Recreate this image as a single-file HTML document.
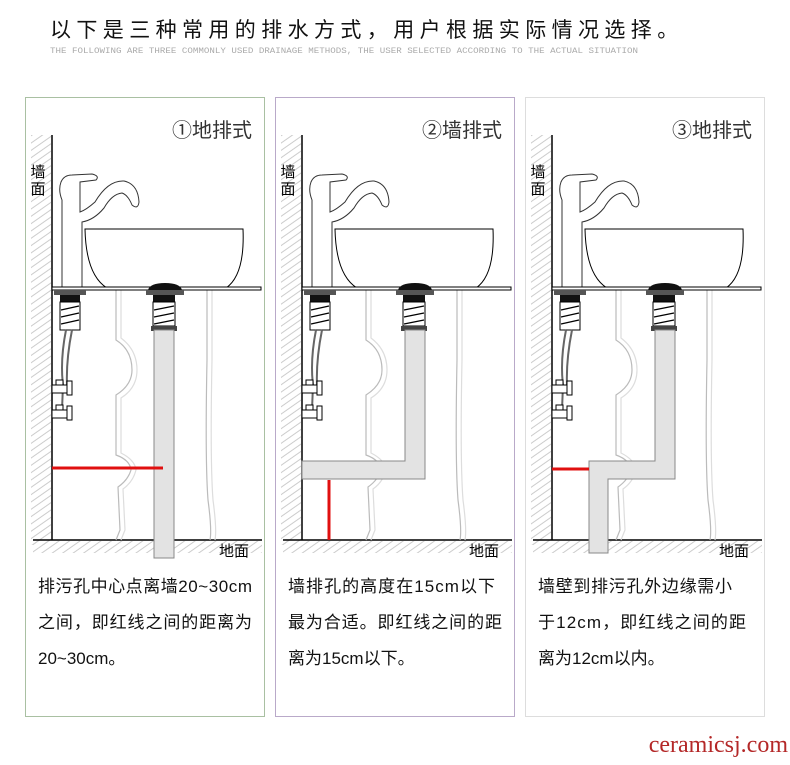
<!DOCTYPE html>
<html><head><meta charset="utf-8"><style>
html,body{margin:0;padding:0;background:#fff;}
body{width:790px;height:760px;overflow:hidden;}
.s{font-family:"Liberation Sans","Noto Sans CJK SC",sans-serif;}
</style></head><body>
<svg width="790" height="760" viewBox="0 0 790 760" xmlns="http://www.w3.org/2000/svg">
<defs>
<pattern id="hatch" width="6" height="6" patternUnits="userSpaceOnUse" patternTransform="rotate(-35)">
<line x1="0" y1="3" x2="6" y2="3" stroke="#ccc" stroke-width="1"/>
</pattern>
<g id="common">
  <rect x="31" y="135" width="20" height="410" fill="url(#hatch)"/>
  <rect x="33" y="541" width="229" height="12" fill="url(#hatch)"/>
  <line x1="52" y1="135" x2="52" y2="540" stroke="#000" stroke-width="1.5"/>
  <line x1="33" y1="540" x2="262" y2="540" stroke="#000" stroke-width="1.5"/>
  <path d="M116 290 L116 340 Q132 350 132 370 Q132 385 116 395 L116 455 Q130 460 131 470 Q128 480 118 487 L120 530 L116 540" fill="none" stroke="#bbb" stroke-width="1.2"/>
  <path d="M121 290 L121 338 Q137 350 137 370 Q137 388 121 398 L121 453 Q135 460 136 470 Q133 482 123 489 L125 530 L121 540" fill="none" stroke="#ddd" stroke-width="1.2"/>
  <path d="M207 290 L207 360 Q205 460 208 500 Q212 530 210 540" fill="none" stroke="#bbb" stroke-width="1.2"/>
  <path d="M212 290 L212 360 Q210 460 213 500 Q217 530 215 540" fill="none" stroke="#ddd" stroke-width="1.2"/>
  <path d="M85 229 L243 229 Q245 275 226 288 L107 288 Q86 275 85 229 Z" fill="#fff" stroke="#000" stroke-width="1"/>
  <path d="M62 288 L62 200 Q58 190 61 182 Q64 175 72 175 L92 174 Q100 176 96 180 L80 182 L80 212 Q86 210 95 202 Q108 180 124 181 Q138 184 139 202 Q138 210 132 205 Q128 195 122 193 Q112 194 104 208 Q94 220 82 222 L82 288 Z" fill="#fff" stroke="#333" stroke-width="1"/>
  <rect x="52" y="287" width="209" height="3" fill="#fff" stroke="#000" stroke-width="1"/>
  <rect x="54" y="290" width="32" height="5" fill="#555"/>
  <rect x="60" y="295" width="20" height="7" fill="#111"/>
  <rect x="60" y="302" width="20" height="28" fill="#fff" stroke="#000"/>
  <path d="M61 310 L79 306 M61 317 L79 313 M61 324 L79 320" stroke="#000" stroke-width="1.2"/>
  <path d="M66 330 Q60 360 63 385 L62 410 M72 330 Q66 360 67 385" fill="none" stroke="#666" stroke-width="2"/>
  <rect x="52" y="385" width="15" height="8" fill="#fff" stroke="#000"/>
  <rect x="56" y="380" width="7" height="5" fill="#fff" stroke="#000"/>
  <rect x="67" y="381" width="5" height="14" fill="#fff" stroke="#000"/>
  <rect x="52" y="410" width="15" height="8" fill="#fff" stroke="#000"/>
  <rect x="56" y="405" width="7" height="5" fill="#fff" stroke="#000"/>
  <rect x="67" y="406" width="5" height="14" fill="#fff" stroke="#000"/>
  <path d="M148 290 Q150 283 165 283 Q180 283 182 290 Z" fill="#111"/>
  <rect x="146" y="290" width="38" height="5" fill="#555"/>
  <rect x="153" y="295" width="22" height="7" fill="#111"/>
  <rect x="153" y="302" width="22" height="24" fill="#fff" stroke="#000"/>
  <path d="M154 310 L174 306 M154 317 L174 313 M154 324 L174 320" stroke="#000" stroke-width="1.2"/>
  <rect x="151" y="326" width="26" height="5" fill="#444"/>
  <text class="s" x="38" y="177" font-size="15" text-anchor="middle">墙</text>
  <text class="s" x="38" y="194" font-size="15" text-anchor="middle">面</text>
  <text class="s" x="219" y="556" font-size="15">地面</text>
</g>
</defs>

<text class="s" x="50" y="37" font-size="21" letter-spacing="5.4" fill="#111">以下是三种常用的排水方式，用户根据实际情况选择。</text>
<text x="50" y="53" font-size="8.5" fill="#aaa" style="font-family:'Liberation Mono',monospace" textLength="588" lengthAdjust="spacingAndGlyphs">THE FOLLOWING ARE THREE COMMONLY USED DRAINAGE METHODS, THE USER SELECTED ACCORDING TO THE ACTUAL SITUATION</text>

<rect x="25.5" y="97.5" width="239" height="619" fill="none" stroke="#a9c0a2"/>
<rect x="275.5" y="97.5" width="239" height="619" fill="none" stroke="#b9a9c9"/>
<rect x="525.5" y="97.5" width="239" height="619" fill="none" stroke="#ddd"/>

<use href="#common"/>
<rect x="154" y="330" width="20" height="228" fill="#e3e3e3" stroke="#888"/>
<line x1="52" y1="468" x2="163" y2="468" stroke="#e01010" stroke-width="3"/>
<text class="s" x="252" y="137" font-size="20" text-anchor="end" fill="#333">①地排式</text>
<text class="s" x="38" y="592" font-size="17" fill="#111" textLength="214">排污孔中心点离墙20~30cm</text>
<text class="s" x="38" y="628" font-size="17" fill="#111" textLength="214">之间，即红线之间的距离为</text>
<text class="s" x="38" y="664" font-size="17" fill="#111">20~30cm。</text>

<g transform="translate(250,0)">
<use href="#common"/>
<path d="M155 330 L175 330 L175 479 L52 479 L52 461 L155 461 Z" fill="#e3e3e3" stroke="#888"/>
<line x1="79" y1="480" x2="79" y2="540" stroke="#e01010" stroke-width="3"/>
<text class="s" x="252" y="137" font-size="20" text-anchor="end" fill="#333">②墙排式</text>
<text class="s" x="38" y="592" font-size="17" fill="#111" textLength="207">墙排孔的高度在15cm以下</text>
<text class="s" x="38" y="628" font-size="17" fill="#111" textLength="214">最为合适。即红线之间的距</text>
<text class="s" x="38" y="664" font-size="17" fill="#111">离为15cm以下。</text>
</g>

<g transform="translate(500,0)">
<use href="#common"/>
<path d="M155 330 L175 330 L175 479 L108 479 L108 553 L89 553 L89 461 L155 461 Z" fill="#e3e3e3" stroke="#888"/>
<line x1="52" y1="469" x2="89" y2="469" stroke="#e01010" stroke-width="3"/>
<text class="s" x="252" y="137" font-size="20" text-anchor="end" fill="#333">③地排式</text>
<text class="s" x="38" y="592" font-size="17" fill="#111" textLength="194">墙壁到排污孔外边缘需小</text>
<text class="s" x="38" y="628" font-size="17" fill="#111" textLength="208">于12cm，即红线之间的距</text>
<text class="s" x="38" y="664" font-size="17" fill="#111">离为12cm以内。</text>
</g>

<text x="788" y="752" font-size="24" text-anchor="end" fill="#b42828" style="font-family:'Liberation Serif',serif">ceramicsj.com</text>
</svg>
</body></html>
